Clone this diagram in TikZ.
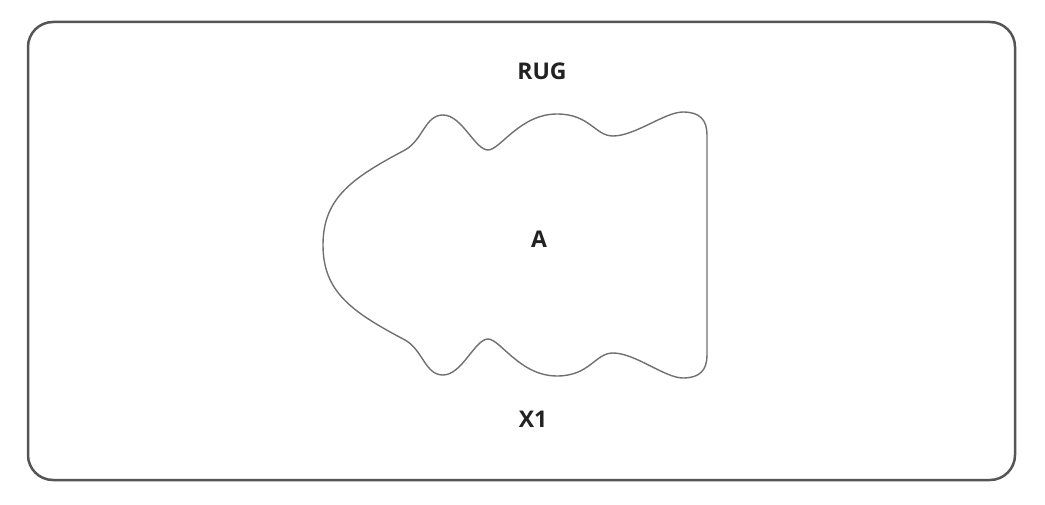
\documentclass[tikz,border=0pt]{standalone}
\usepackage{fontspec}
\setmainfont{Open Sans}
\definecolor{framegray}{HTML}{555555}
\definecolor{shapegray}{HTML}{707070}
\definecolor{txt}{HTML}{222222}
\begin{document}
\begin{tikzpicture}[x=1pt,y=-1pt,
  lbl/.style={font=\fontsize{23}{26}\selectfont\bfseries, text=txt, inner sep=0pt}]
\useasboundingbox (0,0) rectangle (1045,505);
\draw[framegray, line width=2.5pt, rounded corners=25pt] (28,22) rectangle (1015,480);
\draw[shapegray, line width=1.4pt] (323,245)
  .. controls (323,198) and (352,178) .. (405,150)
  .. controls (423,140) and (425,115) .. (443,115)
  .. controls (462,115) and (475,150) .. (488,150)
  .. controls (500,150) and (520,114) .. (557,114)
  .. controls (590,114) and (595,136) .. (613,136)
  .. controls (635,136) and (665,112) .. (683,112)
  .. controls (700,112) and (707,120) .. (707,135)
  -- (707,355)
  .. controls (707,370) and (700,378) .. (683,378)
  .. controls (665,378) and (635,353) .. (613,353)
  .. controls (595,353) and (590,376) .. (557,376)
  .. controls (520,376) and (500,339) .. (488,339)
  .. controls (475,339) and (462,375) .. (443,375)
  .. controls (425,375) and (423,350) .. (405,340)
  .. controls (352,312) and (323,292) .. (323,245) -- cycle;
\node[lbl] (rug) at (542,71) {RUG};
\node[lbl] (a) at (539,239) {A};
\node[lbl] (x1) at (533,419) {X1};
\end{tikzpicture}
\end{document}
